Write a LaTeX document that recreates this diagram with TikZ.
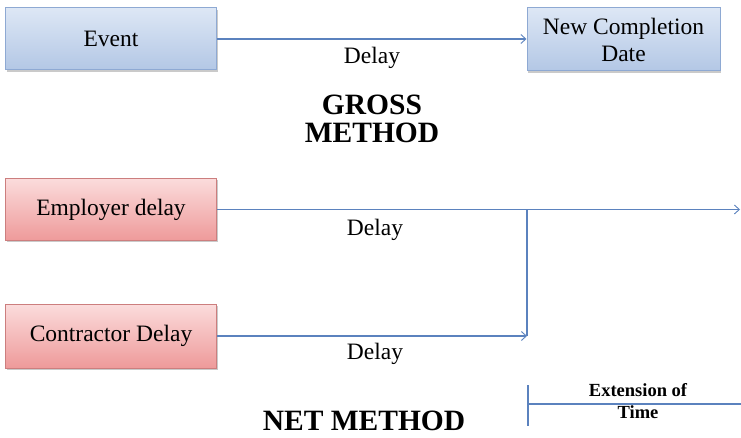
\documentclass[tikz,border=0pt]{standalone}
\usepackage{fontspec}
\setmainfont{Liberation Serif}
\usetikzlibrary{arrows.meta,shadows}
\definecolor{lnc}{HTML}{5B82BE}
\definecolor{bTop}{HTML}{DDE7F5}
\definecolor{bBot}{HTML}{B3C7E5}
\definecolor{bBrd}{HTML}{8EA9D3}
\definecolor{rTop}{HTML}{FBDCDC}
\definecolor{rBot}{HTML}{EE9A9A}
\definecolor{rBrd}{HTML}{CC7E7E}
\begin{document}
\begin{tikzpicture}[x=1pt,y=-1pt,
  boxbase/.style={minimum width=211pt, minimum height=62pt, inner sep=2pt, align=center,
    font=\fontsize{23.5}{27}\selectfont, line width=1pt,
    drop shadow={shadow xshift=1.2pt, shadow yshift=-1.6pt, fill=black!35, opacity=0.6}},
  bluebox/.style={boxbase, draw=bBrd, top color=bTop, bottom color=bBot},
  redbox/.style={boxbase, draw=rBrd, top color=rTop, bottom color=rBot},
  conn/.style={draw=lnc, line width=1.2pt, -{Straight Barb[length=5pt,width=9pt,line width=0.9pt]}},
  plain/.style={draw=lnc, line width=1.2pt},
  lbl/.style={font=\fontsize{23.5}{27}\selectfont, inner sep=0pt},
  title/.style={font=\bfseries\fontsize{29.5}{28}\selectfont, align=center, inner sep=0pt},
  small/.style={font=\bfseries\fontsize{18.5}{20}\selectfont, inner sep=0pt}]
\useasboundingbox (0,0) rectangle (741,438);

% GROSS method
\node[bluebox] (ev) at (111,39) {Event};
\node[bluebox, minimum width=193pt, minimum height=63pt] (ncd) at (623.5,39.5) {New Completion\\Date};
\draw[conn] (ev.east) -- (ev.east -| ncd.west);
\node[lbl] (d1) at (372,58) {Delay};
\node[title] (gm) at (372,119) {GROSS\\METHOD};

% NET method
\node[redbox] (emp) at (111,209.5) {Employer delay};
\node[redbox, minimum height=64pt] (con) at (111,336) {Contractor Delay};
\coordinate (rend) at (740,209.5);
\coordinate (j1) at (527,209.5);
\draw[conn] (emp.east) -- (rend);
\draw[conn] (con.east) -- (con.east -| j1);
\draw[plain] (j1) -- (con.east -| j1);
\node[lbl] (d2) at (375,230) {Delay};
\node[lbl] (d3) at (375,354) {Delay};
\node[title] (nm) at (364,421) {NET METHOD};

% Extension of time
\coordinate (e1) at (528,385);
\coordinate (e2) at (528,426);
\coordinate (e3) at (741,404);
\draw[plain] (e1) -- (e2);
\draw[plain] (e1 |- e3) -- (e3);
\node[small, anchor=base] (x1) at (638,396) {Extension of};
\node[small, anchor=base] (x2) at (638,418) {Time};
\end{tikzpicture}
\end{document}
